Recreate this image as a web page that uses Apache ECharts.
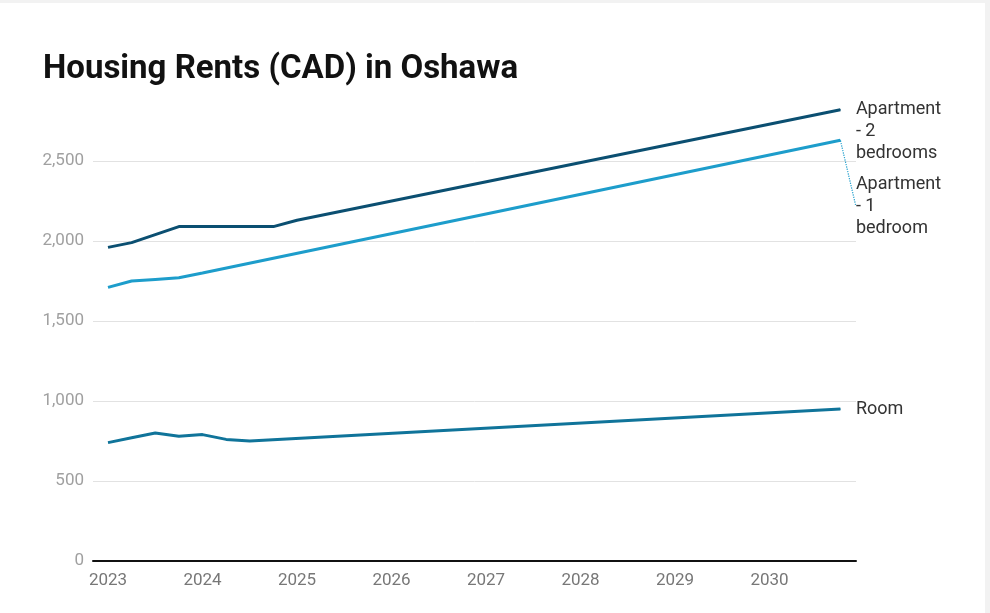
<!DOCTYPE html>
<html>
<head>
<meta charset="utf-8">
<script src="https://cdn.jsdelivr.net/npm/echarts@6/dist/echarts.min.js"></script>
<style>
  html, body { margin: 0; padding: 0; background: #f2f2f2; }
  #c { position: absolute; left: 0; top: 3px; width: 985px; height: 610px; background: #ffffff; }
</style>
</head>
<body>
<div id="c"></div>
<script>
const title = 'Housing Rents (CAD) in Oshawa';
const seriesNames = ['Apartment - 2 bedrooms', 'Apartment - 1 bedroom', 'Room'];
const endLabelTexts = ['Apartment\n- 2\nbedrooms', 'Apartment\n- 1\nbedroom', 'Room'];
const yTicks = [0, 500, 1000, 1500, 2000, 2500];
const xYears = [2023, 2024, 2025, 2026, 2027, 2028, 2029, 2030];

// x positions in decimal years (quarterly knots), values in CAD
const apt2X = [2023, 2023.25, 2023.5, 2023.75, 2024, 2024.25, 2024.5, 2024.75, 2025, 2030.75];
const apt2Y = [1960, 1990, 2040, 2090, 2090, 2090, 2090, 2090, 2130, 2820];
const apt1X = [2023, 2023.25, 2023.5, 2023.75, 2024, 2030.75];
const apt1Y = [1710, 1750, 1760, 1770, 1800, 2630];
const roomX = [2023, 2023.25, 2023.5, 2023.75, 2024, 2024.25, 2024.5, 2030.75];
const roomY = [740, 770, 800, 780, 790, 760, 750, 950];

const colors = ['#0b4f71', '#1d9dcb', '#10749a'];
const labelShiftY = [22, 66, 0];
const labelPad = [[0, 0, 0, 0], [30, 60, 0, 0], [0, 0, 0, 0]];
const showGuide = [false, true, false];

function build(xs, ys, text, s) {
  return xs.map((x, i) => {
    const item = { value: [x, ys[i]] };
    if (i === xs.length - 1) {
      item.symbol = 'circle';
      item.symbolSize = 1;
      item.label = {
        show: true,
        formatter: text,
        position: 'right',
        distance: 15,
        padding: labelPad[s],
        fontFamily: 'Roboto',
        fontSize: 18,
        lineHeight: 22,
        color: '#333333'
      };
    } else {
      item.symbol = 'none';
    }
    return item;
  });
}

const chart = echarts.init(document.getElementById('c'), null, { renderer: 'canvas' });

const xMin = 2023 - 15 / 94.5;
const xMax = 2023 + 748 / 94.5;

chart.setOption({
  animation: false,
  title: {
    text: title,
    left: 38,
    top: 45,
    textStyle: { fontFamily: 'Roboto', fontWeight: 'bold', fontSize: 33, color: '#111111' }
  },
  grid: { left: 93, right: 129, top: 158, bottom: 52, containLabel: false },
  xAxis: {
    type: 'value',
    min: xMin,
    max: xMax,
    minInterval: 1,
    maxInterval: 1,
    axisLine: { show: true, onZero: false, lineStyle: { color: '#111111', width: 2 } },
    axisTick: { show: false },
    splitLine: { show: false },
    axisLabel: {
      showMinLabel: false,
      showMaxLabel: false,
      margin: 11,
      fontFamily: 'Roboto',
      fontSize: 17,
      color: '#777777',
      formatter: v => (xYears.indexOf(Math.round(v)) >= 0 && Math.abs(v - Math.round(v)) < 1e-6) ? String(Math.round(v)) : ''
    }
  },
  yAxis: {
    type: 'value',
    min: yTicks[0],
    max: yTicks[yTicks.length - 1],
    interval: 500,
    axisLine: { show: false },
    axisTick: { show: false },
    splitLine: { show: true, lineStyle: { color: '#e2e2e2', width: 1 } },
    axisLabel: {
      margin: 9,
      fontFamily: 'Roboto',
      fontSize: 17,
      color: '#a0a0a0',
      formatter: v => v.toLocaleString('en-US')
    }
  },
  series: [
    { name: seriesNames[0], data: build(apt2X, apt2Y, endLabelTexts[0], 0) },
    { name: seriesNames[1], data: build(apt1X, apt1Y, endLabelTexts[1], 1) },
    { name: seriesNames[2], data: build(roomX, roomY, endLabelTexts[2], 2) }
  ].map((s, i) => Object.assign(s, {
    type: 'line',
    clip: false,
    showSymbol: true,
    z: 3 - i,
    lineStyle: { color: colors[i], width: 3 },
    itemStyle: { color: colors[i] },
    labelLine: { show: showGuide[i], lineStyle: { color: colors[i], type: 'dotted', width: 1.2 } },
    labelLayout: { dy: labelShiftY[i] }
  }))
});
</script>
</body>
</html>
